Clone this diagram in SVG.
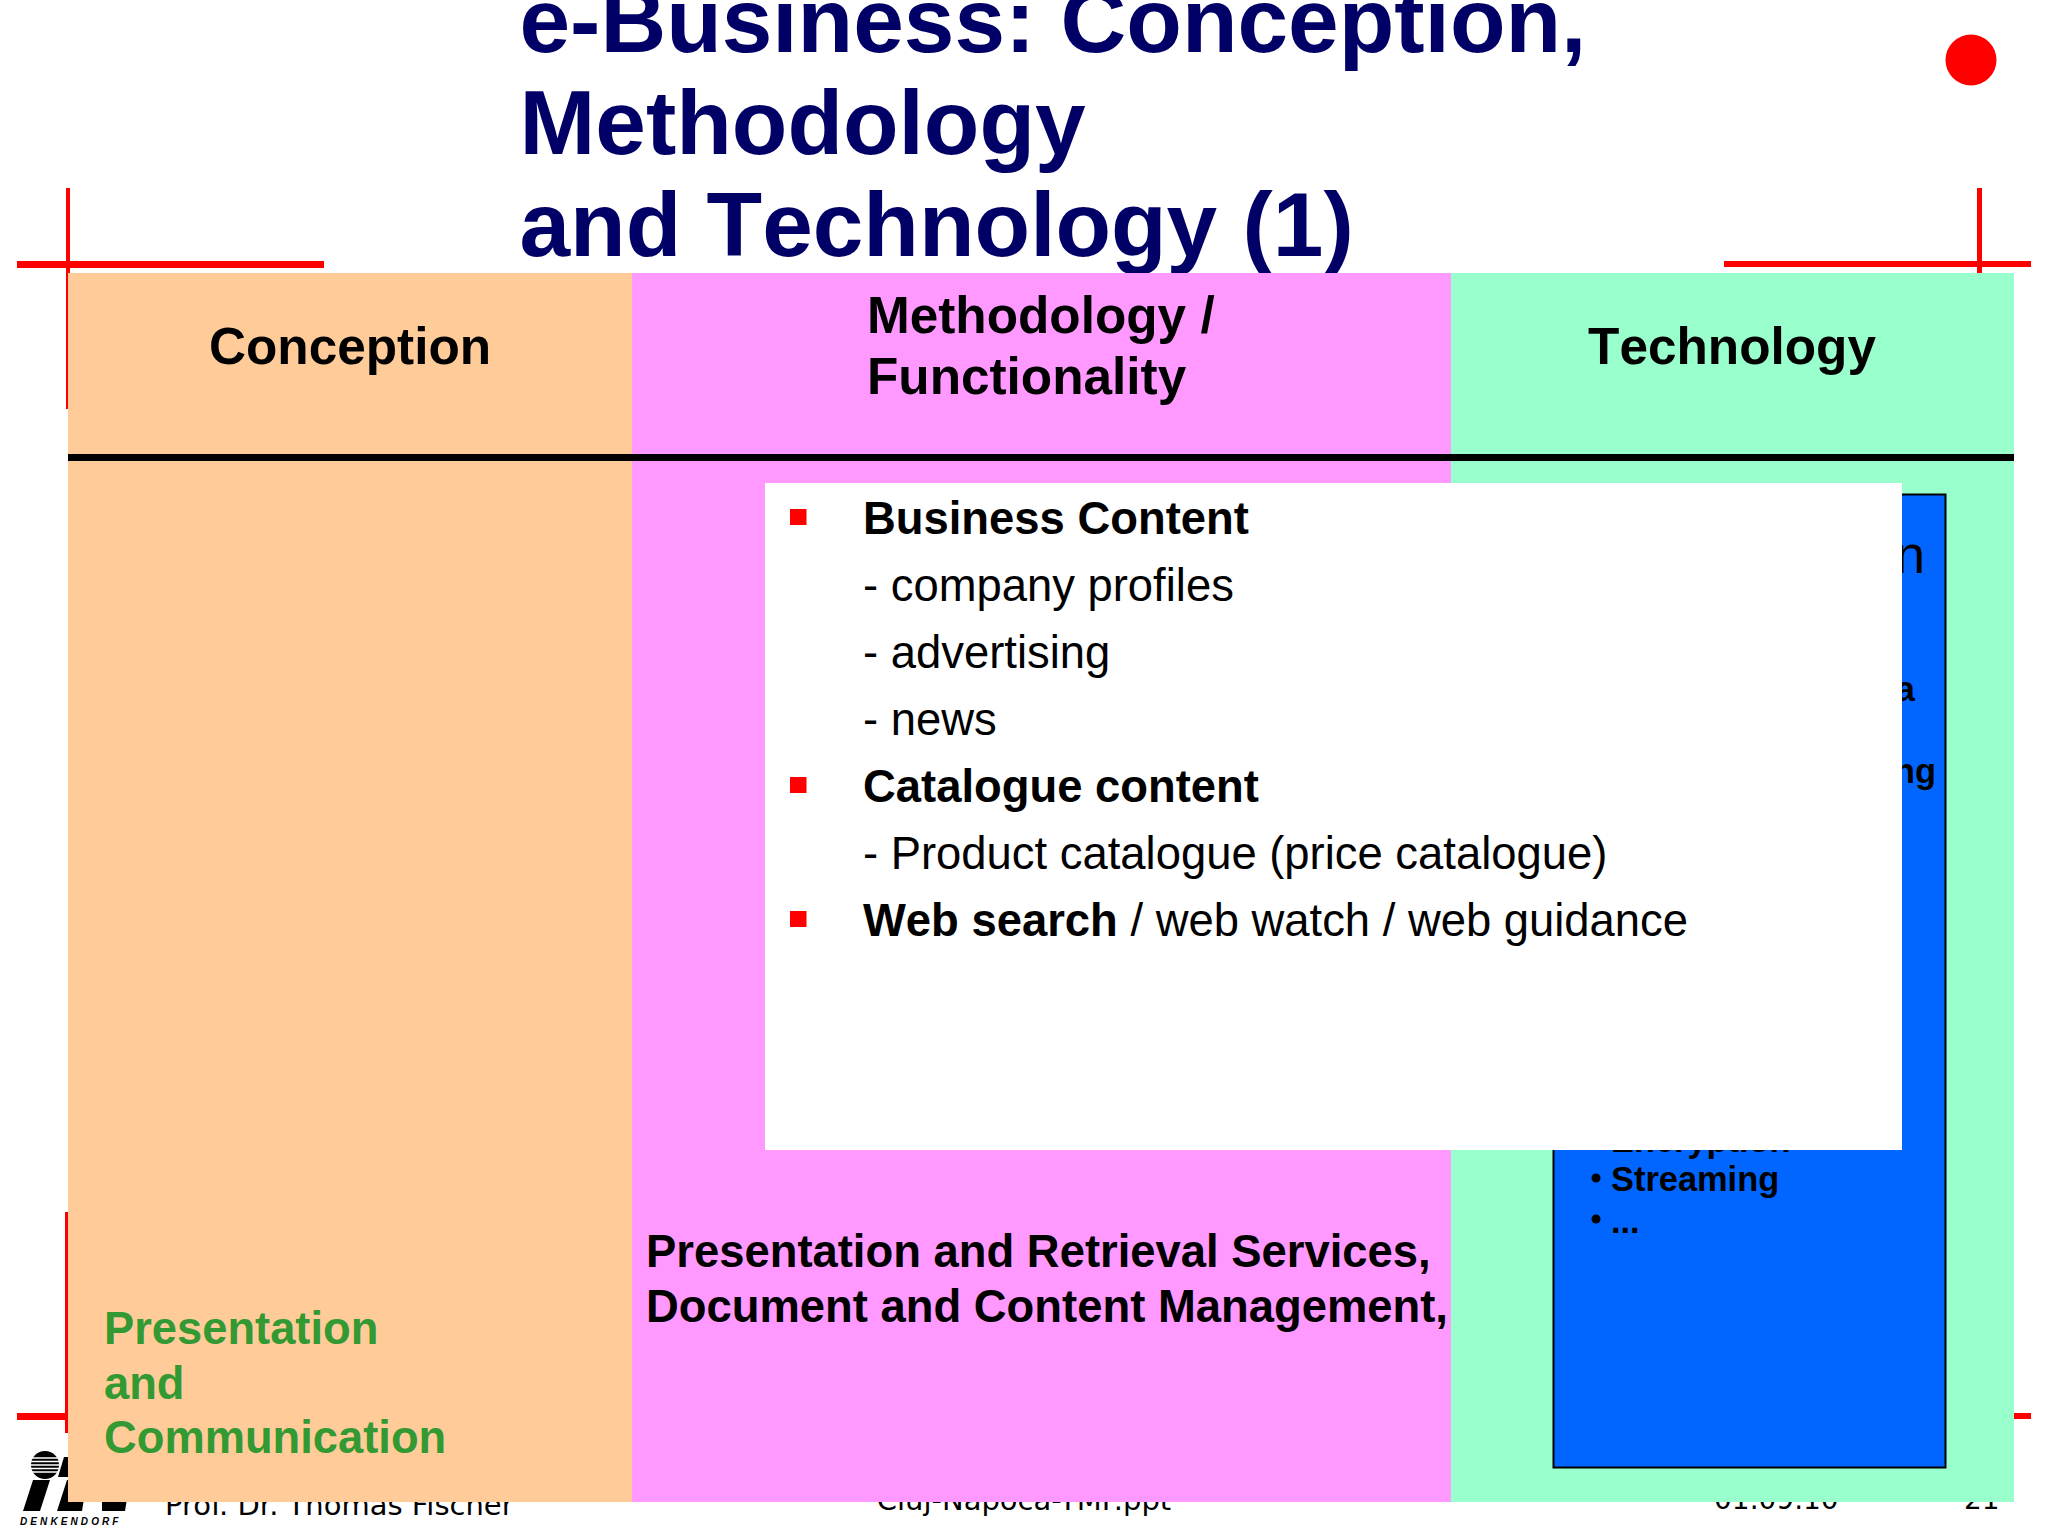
<svg xmlns="http://www.w3.org/2000/svg" width="2048" height="1536" viewBox="0 0 2048 1536">
<style>
text{font-family:"Liberation Sans",Arial,sans-serif;fill:#000;font-kerning:none}
.b{font-weight:700}
.title{font-size:91px;font-weight:700;fill:#000066}
.head{font-size:51.3px;font-weight:700}
.green{font-size:45.3px;font-weight:700;fill:#339933}
.body{font-size:45.4px}
.tech{font-size:34.4px;font-weight:700}
.foot{font-family:"DejaVu Sans",Verdana,sans-serif;font-size:29px;font-kerning:auto}
.red{fill:#FF0000}
</style>
<rect width="2048" height="1536" fill="#fff"/>
<g id="frame">
<rect class="red" x="66" y="188" width="4" height="221"/>
<rect class="red" x="17" y="261" width="307" height="7"/>
<rect class="red" x="1977" y="188" width="5" height="90"/>
<rect class="red" x="1724" y="261" width="307" height="6"/>
<rect class="red" x="65" y="1212" width="4" height="221"/>
<rect class="red" x="17" y="1413" width="52" height="7"/>
<rect class="red" x="2010" y="1413" width="21" height="6"/>
<circle class="red" cx="1971" cy="60" r="25.5"/>
</g>
<g id="title">
<text class="title" x="519.5" y="52">e-Business: Conception,</text>
<text class="title" x="519.5" y="154">Methodology</text>
<text class="title" x="519.5" y="256">and Technology (1)</text>
</g>
<g id="footer">
<g id="logo">
<circle cx="45" cy="1465" r="14"/>
<path d="M32 1458h26M31 1461.500h28M30 1465h30M31 1468.500h28M32 1472h26" stroke="#fff" stroke-width="1.3"/>
<path d="M64 1457h12l-8 20h-10z"/>
<path d="M33 1480h17l-10 31H23zM67 1480h20l-5 31H57zM102 1480h28l-5 31h-23z"/>
<text x="20" y="1525" font-style="italic" font-weight="700" letter-spacing="3.1" style="font-size:10px">DENKENDORF</text>
</g>
<text class="foot" x="165" y="1515">Prof. Dr. Thomas Fischer</text>
<text class="foot" x="1024" y="1510" text-anchor="middle">Cluj-Napoca-TMF.ppt</text>
<text class="foot" x="1714" y="1509" style="font-size:28px">01.09.10</text>
<text class="foot" x="1964" y="1509" style="font-size:28px">21</text>
</g>
<g id="conception">
<rect x="68" y="273" width="564" height="1229" fill="#FFCC99"/>
<text class="head" x="350" y="364" text-anchor="middle">Conception</text>
<text class="green" x="104" y="1344">Presentation</text>
<text class="green" x="104" y="1399">and</text>
<text class="green" x="104" y="1453">Communication</text>
</g>
<g id="methodology">
<rect x="632" y="273" width="819" height="1229" fill="#FF99FF"/>
<text class="head" x="867" y="333">Methodology /</text>
<text class="head" x="867" y="394">Functionality</text>
<text class="body b" x="646" y="1267">Presentation and Retrieval Services,</text>
<text class="body b" x="646" y="1322">Document and Content Management,</text>
</g>
<g id="technology">
<rect x="1451" y="273" width="563" height="1229" fill="#99FFCC"/>
<text class="head" x="1732" y="364" text-anchor="middle">Technology</text>
<rect x="1553.500" y="494.500" width="392" height="973" fill="#0066FF" stroke="#000" stroke-width="2"/>
<text x="1925" y="573" text-anchor="end" style="font-size:54px">n</text>
<text class="tech" x="1915" y="701" text-anchor="end">a</text>
<text class="tech" x="1936" y="783" text-anchor="end">ng</text>
<text class="tech" x="1611" y="1152">Encryption</text>
<circle cx="1596" cy="1178" r="4.500"/>
<text class="tech" x="1611" y="1191">Streaming</text>
<circle cx="1596" cy="1219" r="4.500"/>
<text class="tech" x="1611" y="1233">...</text>
</g>
<g id="connectors">
<rect x="68" y="454" width="1946" height="7"/>
</g>
<g id="content">
<rect x="765" y="483" width="1137" height="667" fill="#fff"/>
<rect class="red" x="790" y="509" width="16.500" height="16"/>
<rect class="red" x="790" y="777" width="16.500" height="16"/>
<rect class="red" x="790" y="911" width="16.500" height="16"/>
<text class="body b" x="863" y="534">Business Content</text>
<text class="body" x="863" y="601">- company profiles</text>
<text class="body" x="863" y="668">- advertising</text>
<text class="body" x="863" y="735">- news</text>
<text class="body b" x="863" y="802">Catalogue content</text>
<text class="body" x="863" y="869">- Product catalogue (price catalogue)</text>
<text class="body" x="863" y="936"><tspan class="b">Web search</tspan> / web watch / web guidance</text>
</g>
</svg>
